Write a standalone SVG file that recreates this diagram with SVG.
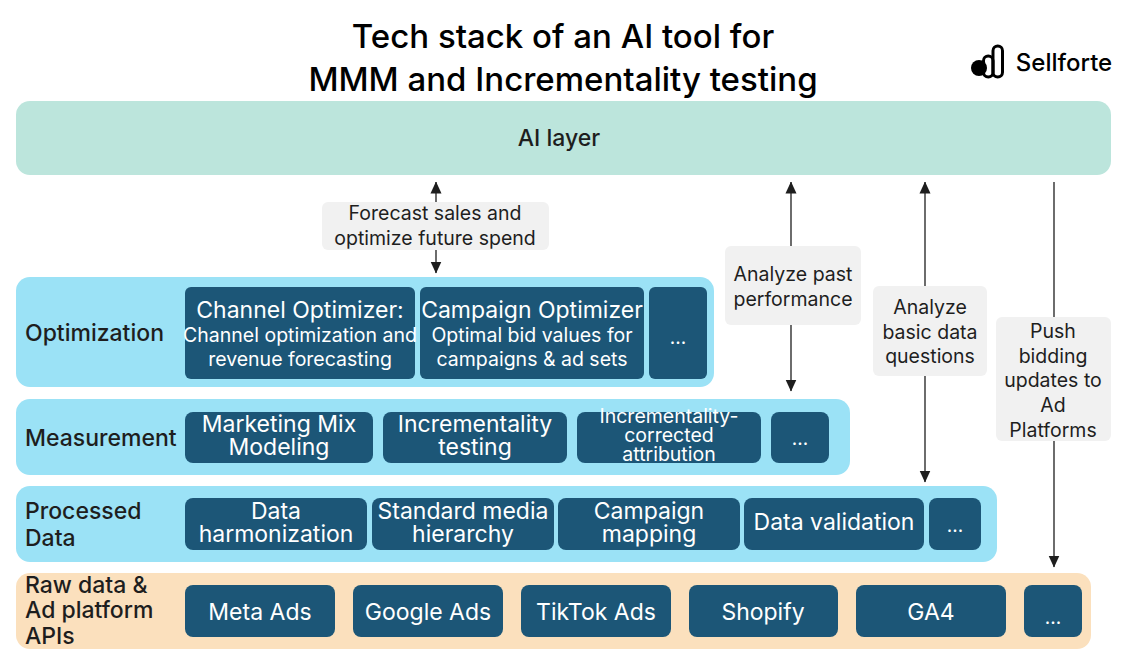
<svg xmlns="http://www.w3.org/2000/svg" width="1145" height="666" viewBox="0 0 1145 666">
<style>
text{font-family:"Inter","Liberation Sans",sans-serif;text-anchor:middle}
.title{font-size:33px;font-weight:500;fill:#000}
.band-ai{fill:#bce5dc}.band{fill:#9be2f6}.band-raw{fill:#fbe0bd}
.n{fill:#1c5677}
.nt{fill:#fff;font-size:23px}
.ns{fill:#fff;font-size:19.5px}
.nx{fill:#fff;font-size:19px}
.bl{fill:#1e1e1e;font-size:23px;font-weight:500;text-anchor:start}
.lb{fill:#f1f1f1}
.lt{fill:#1e1e1e;font-size:19.5px}
.c{stroke:#1e1e1e;stroke-width:1.3;fill:none}
</style>
<defs>
<marker id="ah" viewBox="0 0 12 12" refX="11.5" refY="6" markerWidth="12" markerHeight="12" markerUnits="userSpaceOnUse" orient="auto-start-reverse"><path d="M0 0.5L12 6L0 11.5Z" fill="#1e1e1e"/></marker>
</defs>
<g id="title"><text class="title" x="563" y="48">Tech stack of an AI tool for</text><text class="title" x="563" y="91">MMM and Incrementality testing</text></g>
<g id="logo"><circle cx="979" cy="68" r="8" fill="#000"/><rect x="983.5" y="56" width="9.5" height="21" rx="4.75" fill="none" stroke="#000" stroke-width="3"/><rect x="993" y="46" width="9.5" height="31" rx="4.75" fill="none" stroke="#000" stroke-width="3"/><text x="1064" y="71" style="font-size:24px;font-weight:500;fill:#000">Sellforte</text></g>
<g id="ai-layer"><rect class="band-ai" x="16" y="101" width="1095" height="74" rx="14"/><text x="559" y="146" style="font-size:23px;font-weight:500;fill:#1e1e1e">AI layer</text></g>
<g id="optimization"><rect class="band" x="16" y="277" width="698" height="110" rx="14"/><text class="bl" x="25" y="341">Optimization</text></g>
<g id="measurement"><rect class="band" x="16" y="399" width="834" height="76" rx="14"/><text class="bl" x="25" y="446">Measurement</text></g>
<g id="processed"><rect class="band" x="16" y="486" width="981" height="76" rx="14"/><text class="bl" x="25" y="519">Processed</text><text class="bl" x="25" y="546">Data</text></g>
<g id="raw"><rect class="band-raw" x="16" y="573" width="1075" height="76" rx="14"/><text class="bl" x="25" y="593">Raw data &amp;</text><text class="bl" x="25" y="618">Ad platform</text><text class="bl" x="25" y="644">APIs</text></g>
<g id="connectors">
<path class="c" d="M436 250V273" marker-end="url(#ah)"/><path class="c" d="M436 202V182" marker-end="url(#ah)"/>
<path class="c" d="M791 246V182" marker-end="url(#ah)"/><path class="c" d="M791 325V391" marker-end="url(#ah)"/>
<path class="c" d="M925 286V182" marker-end="url(#ah)"/><path class="c" d="M925 376V482" marker-end="url(#ah)"/>
<path class="c" d="M1054 317V182"/><path class="c" d="M1054 441V567" marker-end="url(#ah)"/>
</g>
<g id="label-forecast"><rect class="lb" x="322" y="202" width="227" height="48" rx="6"/><text class="lt" x="435" y="220">Forecast sales and</text><text class="lt" x="435" y="245">optimize future spend</text></g>
<g id="label-past"><rect class="lb" x="725" y="246" width="136" height="79" rx="6"/><text class="lt" x="793" y="281">Analyze past</text><text class="lt" x="793" y="306">performance</text></g>
<g id="label-basic"><rect class="lb" x="873" y="286" width="114" height="90" rx="6"/><text class="lt" x="930" y="314">Analyze</text><text class="lt" x="930" y="339">basic data</text><text class="lt" x="930" y="363">questions</text></g>
<g id="label-push"><rect class="lb" x="996" y="317" width="115" height="124" rx="6"/><text class="lt" x="1053" y="338">Push</text><text class="lt" x="1053" y="363">bidding</text><text class="lt" x="1053" y="387">updates to</text><text class="lt" x="1053" y="412">Ad</text><text class="lt" x="1053" y="437">Platforms</text></g>
<g id="n-channel"><rect class="n" x="185" y="287" width="230" height="92" rx="6"/><text class="nt" x="300" y="318">Channel Optimizer:</text><text class="ns" x="300" y="342">Channel optimization and</text><text class="ns" x="300" y="366">revenue forecasting</text></g>
<g id="n-campaign"><rect class="n" x="420" y="287" width="224" height="92" rx="6"/><text class="nt" x="532" y="318">Campaign Optimizer</text><text class="ns" x="532" y="342">Optimal bid values for</text><text class="ns" x="532" y="366">campaigns &amp; ad sets</text></g>
<g id="n-opt-more"><rect class="n" x="649" y="287" width="58" height="92" rx="6"/><text class="nx" x="678" y="344">...</text></g>
<g id="n-mmm"><rect class="n" x="185" y="412" width="188" height="51" rx="8"/><text class="nt" x="279" y="432">Marketing Mix</text><text class="nt" x="279" y="455">Modeling</text></g>
<g id="n-inc"><rect class="n" x="383" y="412" width="184" height="51" rx="8"/><text class="nt" x="475" y="432">Incrementality</text><text class="nt" x="475" y="455">testing</text></g>
<g id="n-attr"><rect class="n" x="577" y="412" width="184" height="51" rx="8"/><text class="ns" x="669" y="423">Incrementality-</text><text class="ns" x="669" y="442">corrected</text><text class="ns" x="669" y="461">attribution</text></g>
<g id="n-meas-more"><rect class="n" x="771" y="412" width="58" height="51" rx="8"/><text class="nx" x="800" y="445">...</text></g>
<g id="n-harm"><rect class="n" x="185" y="498" width="182" height="52" rx="8"/><text class="nt" x="276" y="519">Data</text><text class="nt" x="276" y="542">harmonization</text></g>
<g id="n-hier"><rect class="n" x="372" y="498" width="182" height="52" rx="8"/><text class="nt" x="463" y="519">Standard media</text><text class="nt" x="463" y="542">hierarchy</text></g>
<g id="n-map"><rect class="n" x="558" y="498" width="182" height="52" rx="8"/><text class="nt" x="649" y="519">Campaign</text><text class="nt" x="649" y="542">mapping</text></g>
<g id="n-valid"><rect class="n" x="744" y="498" width="180" height="52" rx="8"/><text class="nt" x="834" y="530">Data validation</text></g>
<g id="n-proc-more"><rect class="n" x="929" y="498" width="52" height="52" rx="8"/><text class="nx" x="955" y="532">...</text></g>
<g id="n-meta"><rect class="n" x="185" y="585" width="150" height="52" rx="8"/><text class="nt" x="260" y="620">Meta Ads</text></g>
<g id="n-google"><rect class="n" x="353" y="585" width="150" height="52" rx="8"/><text class="nt" x="428" y="620">Google Ads</text></g>
<g id="n-tiktok"><rect class="n" x="521" y="585" width="150" height="52" rx="8"/><text class="nt" x="596" y="620">TikTok Ads</text></g>
<g id="n-shopify"><rect class="n" x="689" y="585" width="149" height="52" rx="8"/><text class="nt" x="763" y="620">Shopify</text></g>
<g id="n-ga4"><rect class="n" x="856" y="585" width="150" height="52" rx="8"/><text class="nt" x="931" y="620">GA4</text></g>
<g id="n-raw-more"><rect class="n" x="1024" y="585" width="58" height="52" rx="8"/><text class="nx" x="1053" y="624">...</text></g>
</svg>
